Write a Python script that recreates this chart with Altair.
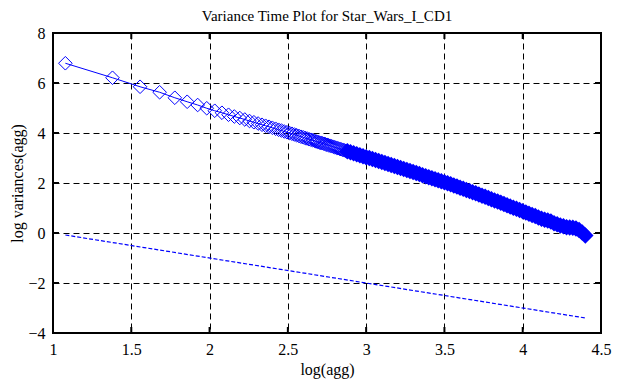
import altair as alt
import pandas as pd

# log(agg) values and log variances
log_agg = [
    1.079, 1.380, 1.556, 1.681, 1.778, 1.857, 1.924, 1.982, 2.033, 2.079,
    2.121, 2.158, 2.193, 2.225, 2.255, 2.283, 2.310, 2.335, 2.358, 2.380,
    2.401, 2.422, 2.441, 2.459, 2.477, 2.494, 2.511, 2.526, 2.542, 2.556,
    2.571, 2.584, 2.598, 2.611, 2.623, 2.636, 2.647, 2.659, 2.670, 2.681,
    2.69, 2.70, 2.71, 2.72, 2.73, 2.74, 2.75, 2.76, 2.77, 2.78,
    2.79, 2.80, 2.81, 2.82, 2.83, 2.84, 2.85, 2.86, 2.87,
    2.88, 2.90, 2.92, 2.94, 2.96, 2.98, 3.00, 3.02, 3.04, 3.06,
    3.08, 3.10, 3.12, 3.14, 3.16, 3.18, 3.20, 3.22, 3.24, 3.26,
    3.28, 3.30, 3.32, 3.34, 3.36, 3.38, 3.40, 3.42, 3.44, 3.46,
    3.48, 3.50, 3.52, 3.54, 3.56, 3.58, 3.60, 3.62, 3.64, 3.66,
    3.68, 3.70, 3.72, 3.74, 3.76, 3.78, 3.80, 3.82, 3.84, 3.86,
    3.88, 3.90, 3.92, 3.94, 3.96, 3.98, 4.00, 4.02, 4.04, 4.06,
    4.08, 4.10, 4.12, 4.14, 4.16, 4.18, 4.20, 4.22, 4.24, 4.26,
    4.28, 4.30, 4.32, 4.34, 4.36, 4.38, 4.40,
]
log_var = [
    6.79, 6.21, 5.85, 5.63, 5.41, 5.25, 5.12, 4.99, 4.89, 4.81,
    4.73, 4.66, 4.60, 4.54, 4.48, 4.43, 4.38, 4.33, 4.29, 4.25,
    4.21, 4.17, 4.13, 4.10, 4.06, 4.03, 4.00, 3.97, 3.94, 3.91,
    3.88, 3.85, 3.83, 3.80, 3.78, 3.75, 3.73, 3.71, 3.69, 3.66,
    3.65, 3.62, 3.61, 3.59, 3.57, 3.55, 3.53, 3.51, 3.49, 3.47,
    3.45, 3.43, 3.41, 3.39, 3.37, 3.35, 3.33, 3.31, 3.29,
    3.27, 3.23, 3.19, 3.15, 3.11, 3.07, 3.03, 3.00, 2.96, 2.92,
    2.88, 2.84, 2.80, 2.76, 2.72, 2.68, 2.64, 2.60, 2.56, 2.52,
    2.48, 2.44, 2.40, 2.36, 2.31, 2.27, 2.23, 2.19, 2.15, 2.11,
    2.07, 2.03, 1.99, 1.95, 1.90, 1.86, 1.81, 1.77, 1.72, 1.68,
    1.63, 1.59, 1.54, 1.49, 1.45, 1.40, 1.35, 1.30, 1.26, 1.21,
    1.16, 1.11, 1.06, 1.01, 0.97, 0.92, 0.87, 0.82, 0.77, 0.72,
    0.68, 0.62, 0.57, 0.53, 0.50, 0.46, 0.39, 0.35, 0.30, 0.27,
    0.23, 0.22, 0.21, 0.18, 0.12, 0.02, -0.10,
]
# reference line (dashed)
ref_x = [1.079, 4.40]
ref_y = [-0.08, -3.40]

x_ticks = [1, 1.5, 2, 2.5, 3, 3.5, 4, 4.5]
y_ticks = [-4, -2, 0, 2, 4, 6, 8]

BLUE = "#0000ff"
FONT = "Liberation Serif"
W, H = 548, 300

df = pd.DataFrame({"x": log_agg, "y": log_var})
df["dense"] = df["x"] >= 2.875
ref = pd.DataFrame({"x": ref_x, "y": ref_y})
xt = pd.DataFrame({"x": x_ticks})
yt = pd.DataFrame({"y": y_ticks})

xscale = alt.Scale(domain=[1, 4.5], nice=False, zero=False)
yscale = alt.Scale(domain=[-4, 8], nice=False, zero=False)

X = alt.X("x:Q", scale=xscale, title="log(agg)",
          axis=alt.Axis(values=x_ticks, format="~g", labelPadding=8, titlePadding=4))
Y = alt.Y("y:Q", scale=yscale, title="log variances(agg)",
          axis=alt.Axis(values=y_ticks, format="~g", labelPadding=8, titlePadding=2))

base = alt.Chart(df)
line = base.mark_line(color=BLUE, strokeWidth=1).encode(x=X, y=Y)
hollow = base.transform_filter("!datum.dense").mark_point(
    shape="diamond", filled=False, size=185, strokeWidth=1, color=BLUE, opacity=1
).encode(x=X, y=Y)
solid = base.transform_filter("datum.dense").mark_point(
    shape="diamond", filled=True, size=200, color=BLUE, opacity=1,
    stroke=BLUE, strokeWidth=1.6
).encode(x=X, y=Y)
refline = alt.Chart(ref).mark_line(color=BLUE, strokeWidth=1.2, strokeDash=[4, 2]).encode(
    x=X, y=Y)

tick_style = dict(color="black", strokeWidth=2)
xt_bot = alt.Chart(xt).mark_rule(**tick_style).encode(x=X, y=alt.value(H), y2=alt.value(H - 6))
xt_top = alt.Chart(xt).mark_rule(**tick_style).encode(x=X, y=alt.value(0), y2=alt.value(6))
yt_left = alt.Chart(yt).mark_rule(**tick_style).encode(y=Y, x=alt.value(0), x2=alt.value(6))
yt_right = alt.Chart(yt).mark_rule(**tick_style).encode(y=Y, x=alt.value(W - 6), x2=alt.value(W))

chart = alt.layer(line, hollow, solid, refline, xt_bot, xt_top, yt_left, yt_right).properties(
    width=W, height=H, background="white",
    title=alt.TitleParams("Variance Time Plot for Star_Wars_I_CD1", font=FONT,
                          fontSize=15, fontWeight="normal", color="black", offset=1),
    autosize=alt.AutoSizeParams(type="none"),
    padding={"left": 45, "top": 25, "right": 12, "bottom": 47},
).configure_view(stroke="black", strokeWidth=2).configure_axis(
    grid=True, gridColor="black", gridDash=[6, 4], gridWidth=1, gridOpacity=1,
    ticks=False, domain=False, labelFont=FONT, labelFontSize=16, labelColor="black",
    titleFont=FONT, titleFontSize=16, titleFontWeight="normal", titleColor="black",
    labelFlush=False,
)

chart.save("out.html", embed_options={"renderer": "svg", "actions": False})
